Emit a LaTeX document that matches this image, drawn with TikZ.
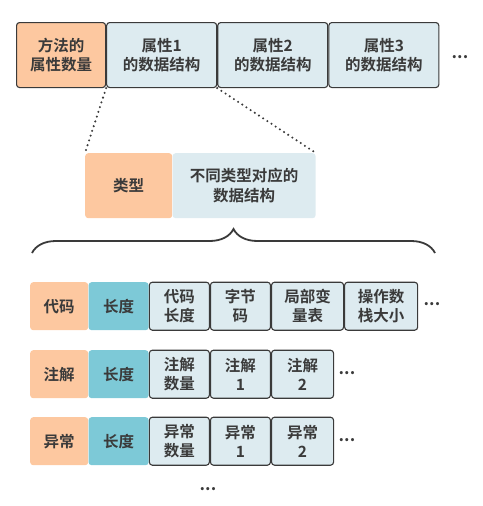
\documentclass[tikz,border=0pt]{standalone}
\usepackage{fontspec}
\setmainfont{Noto Sans CJK SC}[BoldFont={Noto Sans CJK SC Bold}]
\usepackage{xcolor}
\usetikzlibrary{positioning,decorations.pathreplacing}

\definecolor{peach}{HTML}{FDC8A0}
\definecolor{paleblue}{HTML}{DDEBF0}
\definecolor{teal}{HTML}{7DC9D7}
\definecolor{ink}{HTML}{3A3A3A}

\begin{document}
\begin{tikzpicture}[x=1pt,y=-1pt]
            \tikzset{Box/.style={%
                shape=rectangle,%
                rounded corners=3pt,%
                align=center,%
                inner sep=0pt,%
                text=ink,%
                font=\bfseries\fontsize{15.5}{19.5}\selectfont,%
            }}
            \tikzset{HeadBox/.style={Box, fill=peach, draw=ink, line width=1.1pt, minimum height=65pt}}
            \tikzset{AttrBox/.style={Box, fill=paleblue, draw=ink, line width=1.1pt, minimum height=65pt, minimum width=110pt}}
            \tikzset{TypeBox/.style={Box, fill=peach, minimum height=48pt, minimum width=58pt}}
            \tikzset{LenBox/.style={Box, fill=teal, minimum height=48pt, minimum width=60pt}}
            \tikzset{ItemBox/.style={Box, fill=paleblue, draw=ink, line width=1.1pt, minimum height=48pt, minimum width=60pt}}
            \tikzset{Dots/.style={text=ink, font=\bfseries\fontsize{17}{17}\selectfont}}
            \tikzset{Zoom/.style={ink, line width=2.3pt, line cap=round, dash pattern=on 0pt off 5pt}}

            \useasboundingbox (0,0) rectangle (482,506);

            % top row
            \node[HeadBox, minimum width=89pt, anchor=north west] (m0) at (16,22) {方法的\\属性数量};
            \node[AttrBox, right=0pt of m0] (a1) {属性1\\的数据结构};
            \node[AttrBox, right=0pt of a1] (a2) {属性2\\的数据结构};
            \node[AttrBox, right=0pt of a2] (a3) {属性3\\的数据结构};
            \node[Dots] (d0) at (460,57) {...};

            % one attribute
            \node[Box, fill=peach, minimum width=87pt, minimum height=65pt, anchor=north west] (t0) at (85,153) {类型};
            \node[Box, fill=paleblue, minimum width=143pt, minimum height=65pt, right=0pt of t0] (t1) {不同类型对应的\\数据结构};

            \draw[Zoom] (a1.south west) -- (t0.north west);
            \draw[Zoom] (a1.south east) -- (t1.north east);

            \coordinate (bl) at (32,253);
            \coordinate (br) at (435,253);
            \draw[ink, line width=1.8pt, decorate, decoration={brace, amplitude=24pt, aspect=0.5}] (bl) -- (br);

            % code
            \node[TypeBox, anchor=north west] (c0) at (30,282) {代码};
            \node[LenBox, right=0pt of c0] (c1) {长度};
            \node[ItemBox, right=0pt of c1] (c2) {代码\\长度};
            \node[ItemBox, right=0pt of c2] (c3) {字节\\码};
            \node[ItemBox, minimum width=72pt, right=0pt of c3] (c4) {局部变\\量表};
            \node[ItemBox, minimum width=73pt, right=0pt of c4] (c5) {操作数\\栈大小};
            \node[Dots] (d1) at (432,304) {...};

            % annotations
            \node[TypeBox, anchor=north west] (n0) at (30,350) {注解};
            \node[LenBox, right=0pt of n0] (n1) {长度};
            \node[ItemBox, right=0pt of n1] (n2) {注解\\数量};
            \node[ItemBox, right=0pt of n2] (n3) {注解\\1};
            \node[ItemBox, minimum width=62pt, right=0pt of n3] (n4) {注解\\2};
            \node[Dots] (d2) at (347,373) {...};

            % exceptions
            \node[TypeBox, anchor=north west] (e0) at (30,417) {异常};
            \node[LenBox, right=0pt of e0] (e1) {长度};
            \node[ItemBox, right=0pt of e1] (e2) {异常\\数量};
            \node[ItemBox, right=0pt of e2] (e3) {异常\\1};
            \node[ItemBox, minimum width=62pt, right=0pt of e3] (e4) {异常\\2};
            \node[Dots] (d3) at (347,440) {...};

            \node[Dots] (d4) at (208,489) {...};
\end{tikzpicture}
\end{document}
